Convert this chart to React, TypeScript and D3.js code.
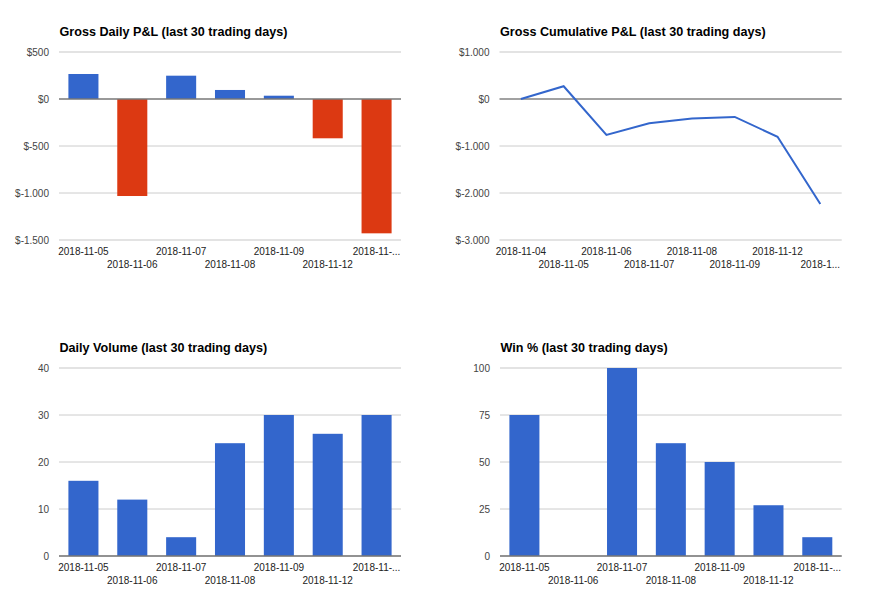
import React from 'react';
import * as d3 from 'd3';

// trading days shown in the bar charts
const tradeDates = ['2018-11-05', '2018-11-06', '2018-11-07', '2018-11-08', '2018-11-09', '2018-11-12', '2018-11-13'];
// cumulative chart starts one day earlier
const cumDates = ['2018-11-04', '2018-11-05', '2018-11-06', '2018-11-07', '2018-11-08', '2018-11-09', '2018-11-12', '2018-11-13'];

const dailyPnl = [266, -1032, 248, 96, 35, -418, -1429];
const cumulativePnl = [0, 272, -763, -515, -417, -382, -804, -2234];
const dailyVolume = [16, 12, 4, 24, 30, 26, 30];
const winPct = [75, 0, 100, 60, 50, 27, 10];

const pnlTicks = [500, 0, -500, -1000, -1500];
const cumTicks = [1000, 0, -1000, -2000, -3000];
const volumeTicks = [0, 10, 20, 30, 40];
const winTicks = [0, 25, 50, 75, 100];

const FONT = 'Arial, "Liberation Sans", sans-serif';
const BLUE = '#3366cc';
const RED = '#dc3912';

const locale = d3.formatLocale({ decimal: ',', thousands: '.', grouping: [3], currency: ['$', ''], minus: '-' });
const money = (v: number) => '$' + locale.format(',')(v);
const plain = (v: number) => `${v}`;

let ctx: CanvasRenderingContext2D | null = null;
const textWidth = (s: string) => {
  if (!ctx) ctx = document.createElement('canvas').getContext('2d');
  if (!ctx) return s.length * 5;
  ctx.font = `10px ${FONT}`;
  return ctx.measureText(s).width;
};

// google-style truncation of labels that run past the right edge
const fitLabel = (label: string, maxW: number) => {
  if (textWidth(label) <= maxW) return label;
  let s = label;
  while (s.length > 1 && textWidth(s + '...') > maxW) s = s.slice(0, -1);
  return s + '...';
};

interface PanelProps {
  x: number;
  y: number;
  title: string;
  labels: string[];
  values: number[];
  ticks: number[];
  domain: [number, number];
  fmt: (v: number) => string;
  kind: 'bar' | 'line';
  left: number;
  right: number;
  signColors?: boolean;
}

const Panel: React.FC<PanelProps> = ({ x, y, title, labels, values, ticks, domain, fmt, kind, left, right, signColors }) => {
  const top = 52;
  const bottom = 240;

  const xScale = d3.scaleBand<string>().domain(labels).range([left, right]).padding(0);
  const yScale = d3.scaleLinear().domain(domain).range([bottom, top]);
  const barW = xScale.bandwidth() * 0.615;
  const cx = (d: string) => (xScale(d) as number) + xScale.bandwidth() / 2;

  const line = d3.line<number>()
    .x((_, i) => cx(labels[i]))
    .y(v => yScale(v));

  const extremes = [d3.min(ticks), d3.max(ticks)];

  return (
    <g transform={`translate(${x},${y})`}>
      <text x={left + 0.5} y={36} fontFamily={FONT} fontSize={12.6} fontWeight="bold" fill="#000">{title}</text>

      {ticks.map(t => {
        const edge = extremes.includes(t);
        return (
          <g key={t}>
            {t !== 0 || domain[0] === 0 ? (
              <line x1={left} x2={right} y1={yScale(t)} y2={yScale(t)}
                stroke={edge ? '#e3e3e3' : '#cccccc'} strokeWidth={edge ? 2 : 1} />
            ) : null}
            <text x={left - 10} y={yScale(t)} dy="0.35em" textAnchor="end"
              fontFamily={FONT} fontSize={10} fill="#444">{fmt(t)}</text>
          </g>
        );
      })}

      {kind === 'bar' && values.map((v, i) => {
        const d = labels[i];
        const y0 = yScale(Math.max(0, v));
        const y1 = yScale(Math.min(0, v));
        return (
          <rect key={d} x={cx(d) - barW / 2} y={y0} width={barW} height={y1 - y0}
            fill={signColors && v < 0 ? RED : BLUE} />
        );
      })}

      <line x1={left} x2={right} y1={yScale(0)} y2={yScale(0)}
        stroke={kind === 'line' ? '#444' : '#777'} strokeWidth={kind === 'line' ? 1.2 : 1.6} />

      {kind === 'line' && (
        <path d={line(values) || ''} fill="none" stroke={BLUE} strokeWidth={2} />
      )}

      {labels.map((d, i) => {
        const c = cx(d);
        const maxW = c + textWidth(d) / 2 > right ? 2 * (right - c) : Infinity;
        return (
          <text key={d} x={c} y={bottom + (i % 2 === 0 ? 15 : 28)} textAnchor="middle"
            fontFamily={FONT} fontSize={10} fill="#222">{fitLabel(d, maxW)}</text>
        );
      })}
    </g>
  );
};

const App: React.FC = () => {
  return (
    <svg width={880} height={603} viewBox="0 0 880 603"
      style={{ position: 'absolute', left: 0, top: 0, background: '#fff' }}>
      <Panel x={0} y={0} title="Gross Daily P&L (last 30 trading days)" labels={tradeDates}
        values={dailyPnl} ticks={pnlTicks} domain={[-1500, 500]} fmt={money} kind="bar"
        left={59} right={401} signColors />
      <Panel x={440} y={0} title="Gross Cumulative P&L (last 30 trading days)" labels={cumDates}
        values={cumulativePnl} ticks={cumTicks} domain={[-3000, 1000]} fmt={money} kind="line"
        left={59.5} right={401.7} />
      <Panel x={0} y={316} title="Daily Volume (last 30 trading days)" labels={tradeDates}
        values={dailyVolume} ticks={volumeTicks} domain={[0, 40]} fmt={plain} kind="bar"
        left={59} right={401} />
      <Panel x={440} y={316} title="Win % (last 30 trading days)" labels={tradeDates}
        values={winPct} ticks={winTicks} domain={[0, 100]} fmt={plain} kind="bar"
        left={60} right={401.7} />
    </svg>
  );
};

export default App;
